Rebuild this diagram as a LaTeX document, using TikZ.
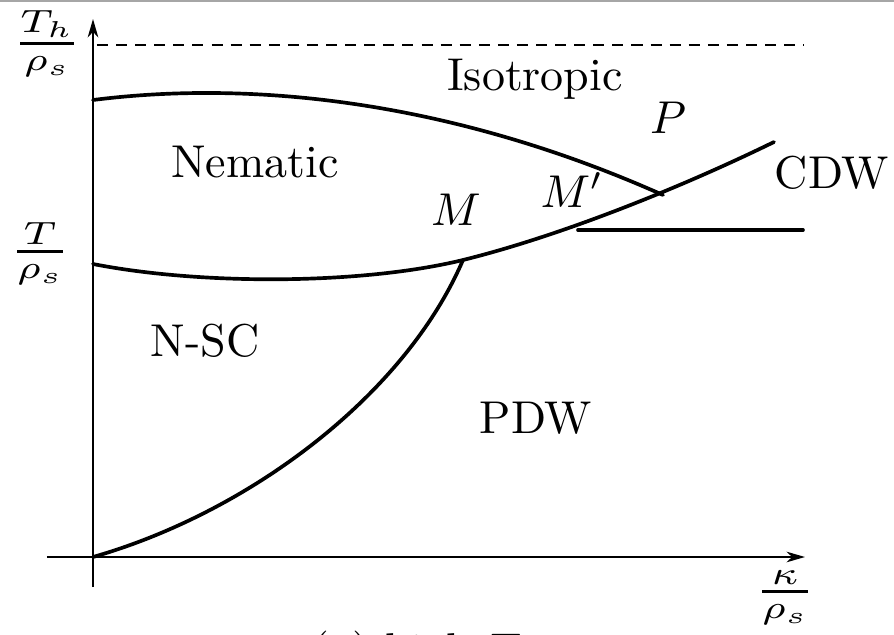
\documentclass[tikz,border=0pt]{standalone}
\usepackage{amsmath}
\usetikzlibrary{arrows.meta}
\newcommand{\axfrac}[2]{\scalebox{1.25}[1]{$\genfrac{}{}{0.85pt}{1}{#1}{#2}$}}
\tikzset{
  lbl/.style={font=\normalsize, inner sep=0pt, anchor=base},
  fraclbl/.style={font=\normalsize, inner sep=0pt, anchor=base},
  phase/.style={line width=0.8pt, line cap=round},
  axis/.style={line width=0.42pt, -{Stealth[length=4pt,width=2.3pt,inset=1.2pt]}},
}
\begin{document}
\begin{tikzpicture}[x=0.2174pt,y=-0.2174pt]
\useasboundingbox (0,0) rectangle (894,635);
\draw[gray!70, line width=0.45pt] (0,1) -- (894,1);
% key points
\coordinate (O) at (93,557);
\coordinate (Ytop) at (93,19);
\coordinate (Ybot) at (93,587);
\coordinate (Xl) at (47,557);
\coordinate (Xr) at (805,557);
\coordinate (D1) at (97,45);
\coordinate (D2) at (804,45);
\coordinate (U0) at (93,100);
\coordinate (L0) at (93,264);
\coordinate (M) at (463,260);
\coordinate (Mp) at (578,230);
\coordinate (P) at (663,195);
\coordinate (E) at (774,142);
\coordinate (H) at (803,230);
% axes
\draw[axis] (Ybot) -- (Ytop);
\draw[axis] (Xl) -- (Xr);
\draw[line width=0.35pt, dash pattern=on 2.4pt off 1.75pt] (D1) -- (D2);
% phase boundaries
\draw[phase] (U0) .. controls (250,80) and (450,100) .. (P);
\draw[phase] (L0) .. controls (200,285) and (360,285) .. (M)
  .. controls (560,236) and (680,188) .. (E);
\draw[phase] (Mp) -- (H);
\draw[phase] (O) .. controls (250,512) and (405,395) .. (M);
% axis labels
\node[fraclbl] (th) at (47,55) {\axfrac{T_h}{\rho_s}};
\node[fraclbl] (t) at (40,263) {\axfrac{T}{\rho_s}};
\node[fraclbl] (k) at (785,603) {\axfrac{\kappa}{\rho_s}};
% phase labels
\node[lbl] (iso) at (535,90) {Isotropic};
\node[lbl] (nem) at (255,177) {Nematic};
\node[lbl] (mlab) at (456,225) {$M$};
\node[lbl] (mplab) at (572,207) {$M'$};
\node[lbl] (plab) at (668,133) {$P$};
\node[lbl] (cdw) at (832,188) {CDW};
\node[lbl] (nsc) at (205,356) {N-SC};
\node[lbl] (pdw) at (536,433) {PDW};
\node[lbl] (cap) at (416,665) {(a) high $T$};
\end{tikzpicture}
\end{document}
